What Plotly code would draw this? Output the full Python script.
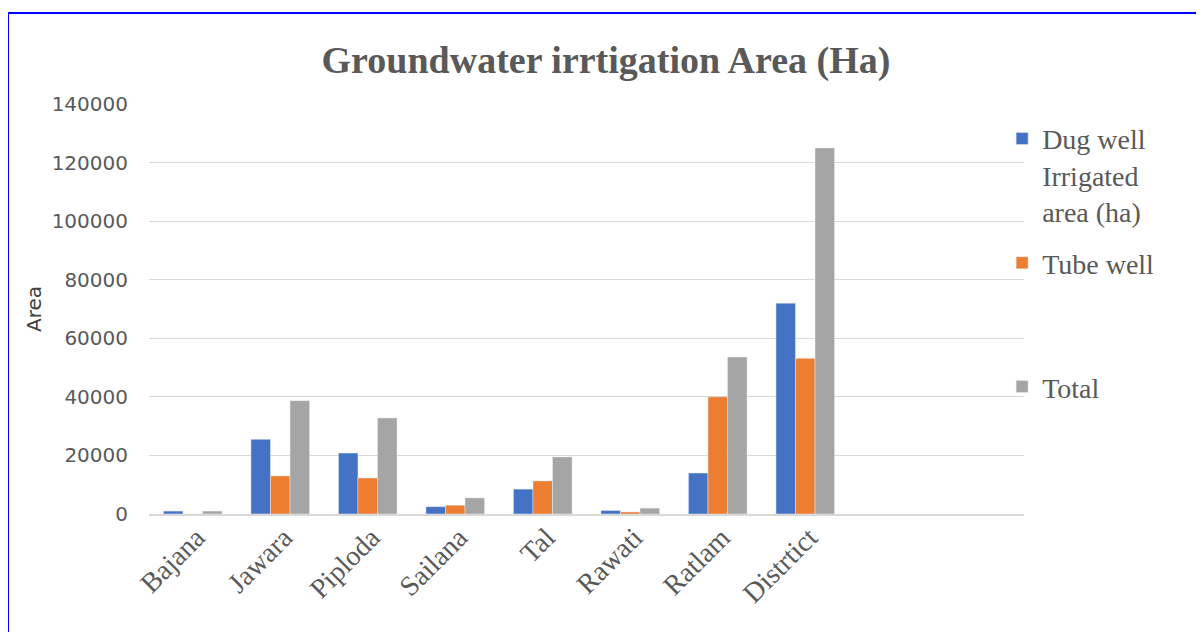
import plotly.graph_objects as go

blocks = ["Bajana", "Jawara", "Piploda", "Sailana", "Tal", "Rawati", "Ratlam", "Distrtict"]
dug_well = [1000, 25500, 20800, 2500, 8500, 1200, 14000, 72000]
tube_well = [0, 13000, 12300, 3000, 11300, 700, 40000, 53200]
total = [1000, 38700, 32800, 5500, 19500, 2000, 53600, 125000]

serif = "Liberation Serif, Times New Roman, serif"
sans = "DejaVu Sans, Arial, sans-serif"

fig = go.Figure()
fig.add_trace(go.Bar(name="Dug well<br>Irrigated<br>area (ha)", x=blocks, y=dug_well,
                     marker_color="#4472C4", legend="legend"))
fig.add_trace(go.Bar(name="Tube well", x=blocks, y=tube_well,
                     marker_color="#ED7D31", legend="legend2"))
fig.add_trace(go.Bar(name="Total", x=blocks, y=total,
                     marker_color="#A5A5A5", legend="legend3"))

legend_style = dict(font=dict(family=serif, size=28, color="#595959"),
                    xanchor="left", bgcolor="rgba(0,0,0,0)", valign="top")

# page body has an 8px margin, so the figure is a little smaller than the window
fig.update_layout(
    width=1196, height=624,
    margin=dict(l=141, r=180, t=96, b=118),
    paper_bgcolor="white", plot_bgcolor="white",
    showlegend=True,
    barmode="group", bargap=0.33, bargroupgap=0,
    title=dict(text="<b>Groundwater irrtigation Area (Ha)</b>",
               font=dict(family=serif, size=38, color="#595959"),
               x=0.5, xanchor="center", y=0.917, yanchor="middle"),
    legend=dict(x=0.975, y=0.976, yanchor="top", **legend_style),
    legend2=dict(x=0.975, y=0.612, yanchor="middle", **legend_style),
    legend3=dict(x=0.975, y=0.31, yanchor="middle", **legend_style),
    shapes=[dict(type="rect", xref="paper", yref="paper",
                 x0=-0.1611, x1=1.22, y0=-0.32, y1=1.222,
                 line=dict(color="#0000FF", width=2), layer="above")],
)

fig.update_xaxes(
    type="category", range=[-0.5, 9.5],
    tickangle=-45, tickfont=dict(family=serif, size=28, color="#595959"),
    ticklabelstandoff=-6, ticklabelshift=4,
    showline=True, linecolor="#D9D9D9", linewidth=2, ticks="",
    showgrid=False,
)
fig.update_yaxes(
    range=[0, 140000], dtick=20000, tickformat="d",
    tickfont=dict(family=sans, size=20, color="#595959"),
    showgrid=True, gridcolor="#D9D9D9", gridwidth=1,
    zeroline=False, ticks="", ticklabelstandoff=20,
    title=dict(text="Area", font=dict(family=sans, size=20, color="#404040"), standoff=4),
)

fig.write_html("out.html")
